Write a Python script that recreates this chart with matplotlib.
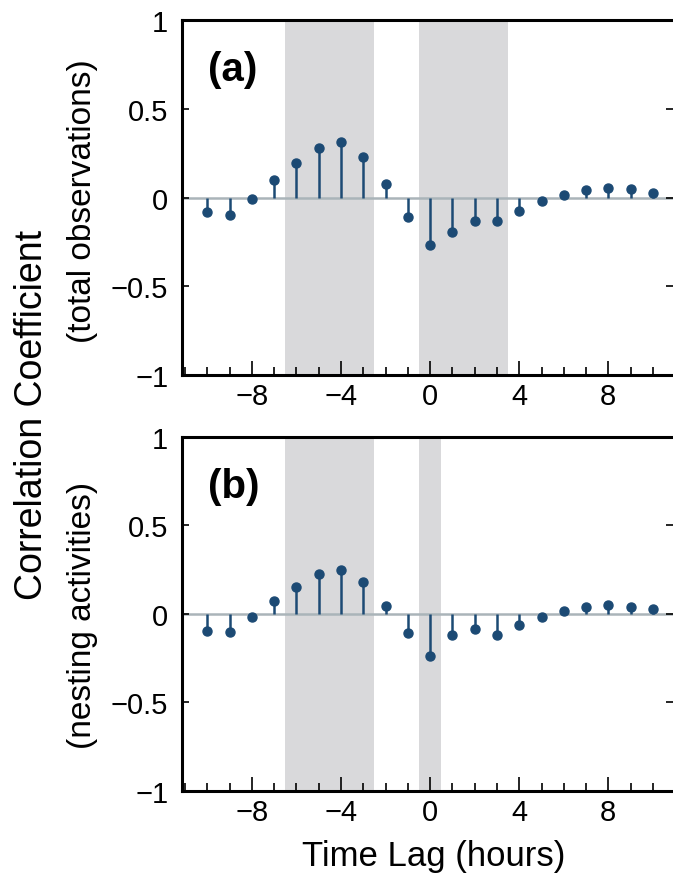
import matplotlib

matplotlib.use("Agg")
import matplotlib.pyplot as plt
from matplotlib.ticker import MultipleLocator

plt.rcParams["font.family"] = ["Liberation Sans", "DejaVu Sans"]

# desfases en horas y coeficientes de correlacion
desfases = list(range(-10, 11))
corr_total = [-0.08, -0.10, -0.01, 0.10, 0.195, 0.28, 0.31, 0.23, 0.075, -0.11,
              -0.265, -0.195, -0.135, -0.13, -0.075, -0.02, 0.015, 0.045, 0.055, 0.05, 0.028]
corr_nido = [-0.095, -0.10, -0.015, 0.075, 0.15, 0.225, 0.248, 0.178, 0.047, -0.11,
             -0.237, -0.117, -0.083, -0.12, -0.06, -0.015, 0.017, 0.038, 0.049, 0.041, 0.026]

# franjas sombreadas (inicio, fin) de cada panel
franjas_total = [(-6.5, -2.5), (-0.5, 3.5)]
franjas_nido = [(-6.5, -2.5), (-0.5, 0.5)]

etiquetas = ["(a)", "(b)"]
subtitulos = ["(total observations)", "(nesting activities)"]

COLOR_STEM = "#1c4a74"
COLOR_SOMBRA = "#d9d9db"
COLOR_BASE = "#aab4b9"

fig = plt.figure(figsize=(6.73, 8.79), dpi=100)
ejes = [
    fig.add_axes([0.2705, 0.5722, 0.7295, 0.4039]),
    fig.add_axes([0.2705, 0.0990, 0.7295, 0.4029]),
]

datos = [(corr_total, franjas_total), (corr_nido, franjas_nido)]
centros_sub = [0.771, 0.300]

for ax, (valores, franjas), etiqueta, sub, yc in zip(ejes, datos, etiquetas, subtitulos, centros_sub):
    for ini, fin in franjas:
        ax.axvspan(ini, fin, color=COLOR_SOMBRA, lw=0, zorder=0)
    ax.axhline(0, color=COLOR_BASE, lw=1.8, zorder=1)
    ax.vlines(desfases, 0, valores, color=COLOR_STEM, lw=1.8, zorder=2)
    ax.plot(desfases, valores, "o", color=COLOR_STEM, ms=6.5, zorder=3)

    ax.set_xlim(-11.13, 10.9)
    ax.set_ylim(-1, 1)
    ax.xaxis.set_minor_locator(MultipleLocator(1))
    ax.set_yticks([-1, -0.5, 0, 0.5, 1])
    ax.set_yticklabels(["\u22121", "\u22120.5", "0", "0.5", "1"])
    ax.set_xticks([-8, -4, 0, 4, 8])
    ax.set_xticklabels(["\u22128", "\u22124", "0", "4", "8"])

    ax.tick_params(axis="x", which="major", direction="in", length=10, width=1.2,
                   labelsize=21, pad=5, top=False)
    ax.tick_params(axis="x", which="minor", direction="in", length=5.5, width=1.2, top=False)
    ax.tick_params(axis="y", which="major", direction="in", length=5, width=1.2,
                   labelsize=21, pad=10, right=True)

    for lado in ["left", "bottom", "top"]:
        ax.spines[lado].set_linewidth(2.2)
    ax.spines["right"].set_visible(False)

    ax.text(0.053, 0.862, etiqueta, transform=ax.transAxes, fontsize=29,
            fontweight="bold", ha="left", va="center")
    fig.text(0.1233, yc, sub, rotation=90, fontsize=24, ha="center", va="center")

fig.text(0.644, 0.015, "Time Lag (hours)", fontsize=25, ha="center", va="baseline")
fig.text(0.048, 0.528, "Correlation Coefficient", rotation=90, fontsize=27,
         ha="center", va="center")

fig.savefig("out.png", dpi=100)
